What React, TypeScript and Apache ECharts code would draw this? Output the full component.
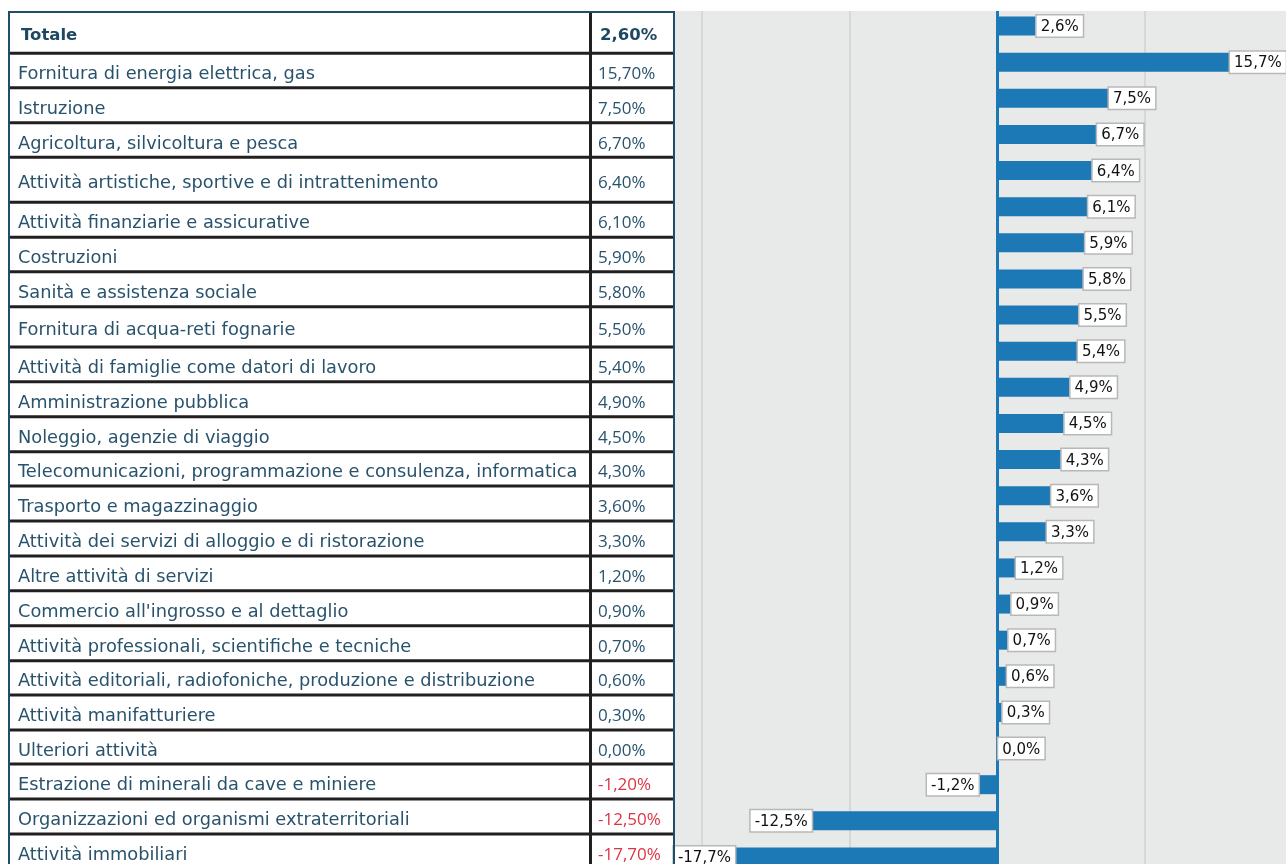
import React, { useEffect, useRef } from "react";
import * as echarts from "echarts";

const CATEGORIES = [
  "Totale",
  "Fornitura di energia elettrica, gas",
  "Istruzione",
  "Agricoltura, silvicoltura e pesca",
  "Attività artistiche, sportive e di intrattenimento",
  "Attività finanziarie e assicurative",
  "Costruzioni",
  "Sanità e assistenza sociale",
  "Fornitura di acqua-reti fognarie",
  "Attività di famiglie come datori di lavoro",
  "Amministrazione pubblica",
  "Noleggio, agenzie di viaggio",
  "Telecomunicazioni, programmazione e consulenza, informatica",
  "Trasporto e magazzinaggio",
  "Attività dei servizi di alloggio e di ristorazione",
  "Altre attività di servizi",
  "Commercio all'ingrosso e al dettaglio",
  "Attività professionali, scientifiche e tecniche",
  "Attività editoriali, radiofoniche, produzione e distribuzione",
  "Attività manifatturiere",
  "Ulteriori attività",
  "Estrazione di minerali da cave e miniere",
  "Organizzazioni ed organismi extraterritoriali",
  "Attività immobiliari",
];

const VALUES = [
  2.6, 15.7, 7.5, 6.7, 6.4, 6.1, 5.9, 5.8, 5.5, 5.4, 4.9, 4.5, 4.3, 3.6, 3.3,
  1.2, 0.9, 0.7, 0.6, 0.3, 0.0, -1.2, -12.5, -17.7,
];

// Table layout (row heights of the HTML-like table on the left)
const TABLE_ROW_HEIGHTS = [
  41.3, 34.4, 35, 34.6, 45, 35, 34.4, 35, 40.3, 34.7, 35, 35, 34.3, 35, 35,
  34.7, 35, 35, 34.3, 35, 34, 35, 35, 35,
];

const BAR_COLOR = "#1c79b5";
const TEXT_COLOR = "#29536c";
const TEXT_BOLD_COLOR = "#1e4861";
const NEG_COLOR = "#dc3545";
const LINE_BLACK = "#221f20";
const BORDER_BLUE = "#1f4e66";
const CAT_FONT = "17.8px 'DejaVu Sans', sans-serif";
const VAL_FONT = "17px 'Open Sans', 'Noto Sans', sans-serif";
const BOLD_FONT = "bold 16.5px 'DejaVu Sans', sans-serif";

const fmtTable = (v: number) => v.toFixed(2).replace(".", ",") + "%";
const fmtBar = (v: number) => v.toFixed(1).replace(".", ",") + "%";

function buildTable() {
  const els: any[] = [];
  const top = 12;
  const left = 9;
  const right = 674;
  const divX = 590.5;
  let y = top;
  const bottom = top + TABLE_ROW_HEIGHTS.reduce((a, b) => a + b, 0);
  els.push({
    type: "rect",
    shape: { x: left, y: top, width: right - left, height: bottom - top },
    style: { fill: "#ffffff" },
    z: -3,
  });
  CATEGORIES.forEach((cat, i) => {
    const h = TABLE_ROW_HEIGHTS[i];
    const cy = y + h / 2 + 2;
    const bold = i === 0;
    const v = VALUES[i];
    els.push({
      type: "text",
      x: bold ? 21 : 18,
      y: cy,
      style: {
        text: cat,
        fill: bold ? TEXT_BOLD_COLOR : TEXT_COLOR,
        font: bold ? BOLD_FONT : CAT_FONT,
        verticalAlign: "middle",
        align: "left",
      },
      z: 2,
    });
    els.push({
      type: "text",
      x: bold ? 600 : 598,
      y: cy,
      style: {
        text: fmtTable(v),
        fill: v < 0 ? NEG_COLOR : bold ? TEXT_BOLD_COLOR : TEXT_COLOR,
        font: bold ? BOLD_FONT : VAL_FONT,
        verticalAlign: "middle",
        align: "left",
      },
      z: 2,
    });
    y += h;
    if (i < CATEGORIES.length - 1) {
      els.push({
        type: "line",
        shape: { x1: left, y1: y, x2: right, y2: y },
        style: { stroke: LINE_BLACK, lineWidth: 3 },
        z: 1,
      });
    }
  });
  els.push({
    type: "line",
    shape: { x1: divX, y1: top, x2: divX, y2: bottom },
    style: { stroke: LINE_BLACK, lineWidth: 3 },
    z: 1,
  });
  els.push({
    type: "polyline",
    shape: {
      points: [
        [left, bottom],
        [left, top],
        [right, top],
        [right, bottom],
      ],
    },
    style: { stroke: BORDER_BLUE, lineWidth: 2, fill: null },
    z: 3,
  });
  return els;
}

export default function App() {
  const ref = useRef<HTMLDivElement>(null);

  useEffect(() => {
    if (!ref.current) return;
    document.documentElement.style.overflow = "hidden";
    document.body.style.overflow = "hidden";
    const chart = echarts.init(ref.current, null, { renderer: "svg" });
    const option: any = {
      animation: false,
      grid: { left: 702, top: 8, width: 592, height: 867 },
      xAxis: {
        type: "value",
        min: -20,
        max: 20.1,
        interval: 10,
        axisLabel: { show: false },
        axisLine: { show: false },
        axisTick: { show: false },
        splitLine: { show: true, lineStyle: { color: "#d0d1d1", width: 1.5 } },
      },
      yAxis: {
        type: "category",
        data: CATEGORIES,
        inverse: true,
        axisLabel: { show: false },
        axisTick: { show: false },
        axisLine: { show: true, onZero: true, lineStyle: { color: BAR_COLOR, width: 3 } },
        splitLine: { show: false },
      },
      graphic: [
        {
          type: "rect",
          shape: { x: 675, y: 11, width: 630, height: 880 },
          style: { fill: "#e8e9e9" },
          z: -10,
        },
        ...buildTable(),
        {
          type: "rect",
          shape: { x: 675, y: 0, width: 630, height: 11 },
          style: { fill: "#ffffff" },
          z: 50,
        },
      ],
      series: [
        {
          type: "bar",
          barWidth: 19,
          itemStyle: { color: BAR_COLOR },
          data: VALUES.map((v) => ({
            value: v,
            label: { position: v < 0 ? "left" : "right" },
          })),
          label: {
            show: true,
            distance: 1,
            formatter: (p: any) => fmtBar(p.value),
            fontFamily: "'DejaVu Sans', sans-serif",
            fontSize: 15,
            color: "#111111",
            backgroundColor: "#ffffff",
            borderColor: "#b8b8b8",
            borderWidth: 1.5,
            padding: [3, 4, 3, 4],
          },
        },
      ],
    };
    chart.setOption(option);
    return () => chart.dispose();
  }, []);

  return (
    <div
      ref={ref}
      style={{ position: "fixed", left: 0, top: 0, width: 1300, height: 880 }}
    />
  );
}
